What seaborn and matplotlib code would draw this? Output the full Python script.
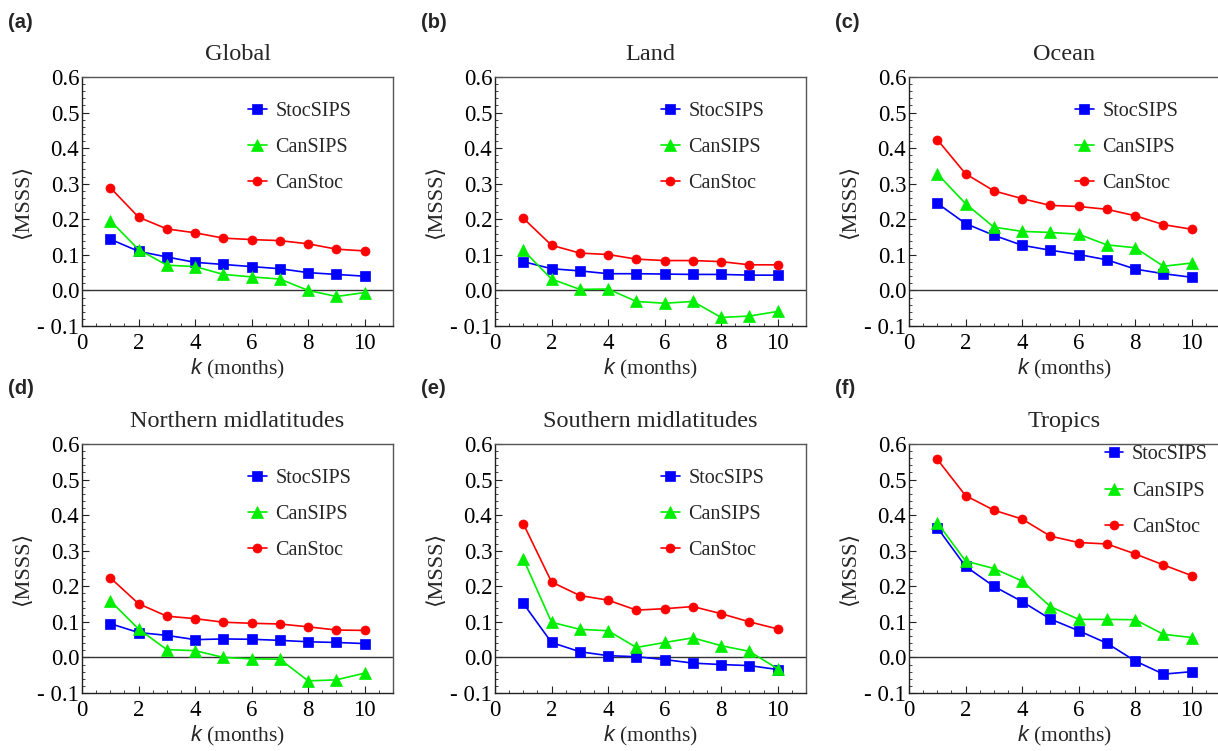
import numpy as np
import pandas as pd
import matplotlib
matplotlib.use("Agg")
import matplotlib.pyplot as plt
import seaborn as sns
from matplotlib.ticker import FuncFormatter, MultipleLocator

# lead time in months
k = [1, 2, 3, 4, 5, 6, 7, 8, 9, 10]

# (a) Global
global_stocsips = [0.144, 0.110, 0.094, 0.079, 0.073, 0.067, 0.061, 0.050, 0.045, 0.040]
global_cansips = [0.196, 0.115, 0.071, 0.067, 0.045, 0.038, 0.032, 0.000, -0.017, -0.006]
global_canstoc = [0.289, 0.206, 0.173, 0.162, 0.147, 0.143, 0.140, 0.131, 0.116, 0.111]

# (b) Land
land_stocsips = [0.081, 0.061, 0.055, 0.047, 0.047, 0.046, 0.045, 0.045, 0.043, 0.043]
land_cansips = [0.113, 0.032, 0.003, 0.004, -0.031, -0.036, -0.031, -0.076, -0.072, -0.059]
land_canstoc = [0.203, 0.127, 0.105, 0.101, 0.088, 0.084, 0.084, 0.081, 0.072, 0.072]

# (c) Ocean
ocean_stocsips = [0.245, 0.188, 0.155, 0.127, 0.113, 0.101, 0.086, 0.060, 0.047, 0.037]
ocean_cansips = [0.328, 0.244, 0.178, 0.166, 0.163, 0.158, 0.128, 0.120, 0.068, 0.077]
ocean_canstoc = [0.424, 0.328, 0.280, 0.258, 0.239, 0.236, 0.228, 0.210, 0.185, 0.172]

# (d) Northern midlatitudes
north_stocsips = [0.095, 0.070, 0.062, 0.050, 0.052, 0.051, 0.048, 0.044, 0.042, 0.039]
north_cansips = [0.159, 0.080, 0.022, 0.019, 0.000, -0.004, -0.005, -0.066, -0.063, -0.044]
north_canstoc = [0.224, 0.151, 0.116, 0.109, 0.099, 0.096, 0.094, 0.086, 0.077, 0.076]

# (e) Southern midlatitudes
south_stocsips = [0.152, 0.042, 0.016, 0.005, 0.002, -0.006, -0.016, -0.020, -0.023, -0.034]
south_cansips = [0.277, 0.099, 0.079, 0.075, 0.028, 0.042, 0.055, 0.033, 0.017, -0.032]
south_canstoc = [0.376, 0.212, 0.174, 0.161, 0.133, 0.137, 0.143, 0.123, 0.100, 0.080]

# (f) Tropics
tropics_stocsips = [0.365, 0.256, 0.200, 0.157, 0.108, 0.075, 0.040, -0.010, -0.047, -0.040]
tropics_cansips = [0.379, 0.271, 0.250, 0.215, 0.143, 0.107, 0.107, 0.106, 0.065, 0.056]
tropics_canstoc = [0.557, 0.455, 0.414, 0.389, 0.341, 0.323, 0.319, 0.291, 0.260, 0.230]

panel_letters = ["(a)", "(b)", "(c)", "(d)", "(e)", "(f)"]
panel_titles = ["Global", "Land", "Ocean",
                "Northern midlatitudes", "Southern midlatitudes", "Tropics"]
model_names = ["StocSIPS", "CanSIPS", "CanStoc"]

panels = [
    (global_stocsips, global_cansips, global_canstoc),
    (land_stocsips, land_cansips, land_canstoc),
    (ocean_stocsips, ocean_cansips, ocean_canstoc),
    (north_stocsips, north_cansips, north_canstoc),
    (south_stocsips, south_cansips, south_canstoc),
    (tropics_stocsips, tropics_cansips, tropics_canstoc),
]

# styling
colors = {"StocSIPS": "#0000ff", "CanSIPS": "#00ee00", "CanStoc": "#ff0000"}
markers = {"StocSIPS": "s", "CanSIPS": "^", "CanStoc": "o"}
msizes = {"StocSIPS": 7.5, "CanSIPS": 8.5, "CanStoc": 6.5}

sns.set_style("ticks")
plt.rcParams["font.family"] = ["Liberation Serif", "DejaVu Serif", "DejaVu Sans"]
plt.rcParams["mathtext.fontset"] = "custom"
plt.rcParams["mathtext.it"] = "Liberation Sans:italic"
plt.rcParams["mathtext.rm"] = "Liberation Serif"

fig = plt.figure(figsize=(12.18, 7.51), dpi=100)
W, H = 1218.0, 751.0

col_left = [82, 495, 909]
row_top = [77, 444]
ax_w, ax_h = 311, 249
legend_anchor = [(0.535, 0.90)] * 5 + [(0.63, 0.995)]


def tick_fmt(v, pos):
    if v < -1e-9:
        return f"- {abs(v):.1f}"
    return f"{abs(v):.1f}"


for i, series in enumerate(panels):
    r, c = divmod(i, 3)
    left = col_left[c] / W
    bottom = 1 - (row_top[r] + ax_h) / H
    ax = fig.add_axes([left, bottom, ax_w / W, ax_h / H])

    df = pd.DataFrame({"k": k * 3,
                       "msss": np.concatenate(series),
                       "model": np.repeat(model_names, len(k))})
    for name in model_names:
        sub = df[df["model"] == name]
        sns.lineplot(data=sub, x="k", y="msss", ax=ax, color=colors[name],
                     marker=markers[name], markersize=msizes[name],
                     markeredgecolor=colors[name], markeredgewidth=0.5,
                     linewidth=1.2, label=name)

    ax.axhline(0, color="#333333", linewidth=1.0, zorder=1)
    ax.set_xlim(0, 11)
    ax.set_ylim(-0.1, 0.6)
    ax.set_xticks([0, 2, 4, 6, 8, 10])
    ax.xaxis.set_minor_locator(MultipleLocator(0.5))
    ax.set_yticks(np.round(np.arange(-0.1, 0.61, 0.1), 1))
    ax.yaxis.set_minor_locator(MultipleLocator(0.02))
    ax.yaxis.set_major_formatter(FuncFormatter(tick_fmt))
    ax.tick_params(which="both", direction="in", top=False, right=False,
                   labelsize=16.5, pad=2, colors="#222222", labelcolor="black")
    ax.tick_params(axis="x", which="major", pad=5)
    ax.tick_params(which="major", length=5, width=0.8)
    ax.tick_params(which="minor", length=2.5, width=0.6)
    for side in ["left", "bottom"]:
        ax.spines[side].set_color("#222222")
        ax.spines[side].set_linewidth(1.0)
    for side in ["top", "right"]:
        ax.spines[side].set_visible(True)
        ax.spines[side].set_color("#555555")
        ax.spines[side].set_linewidth(1.0)

    ax.set_title(panel_titles[i], fontsize=17.5, pad=12)
    ax.set_xlabel(r"$k$ (months)", fontsize=15.5, labelpad=2)
    ax.set_ylabel("\u27e8MSSS\u27e9", fontsize=16, labelpad=3)

    ax.legend(loc="upper left", bbox_to_anchor=legend_anchor[i],
              frameon=False, fontsize=14.5, handlelength=0.9,
              handletextpad=0.45, labelspacing=0.85, borderpad=0,
              borderaxespad=0, numpoints=1)

    fig.text((col_left[c] - 74) / W, 1 - (row_top[r] - 55) / H,
             panel_letters[i], family="Liberation Sans", weight="bold",
             fontsize=14.5, ha="left", va="center")

fig.savefig("out.png", dpi=100)
